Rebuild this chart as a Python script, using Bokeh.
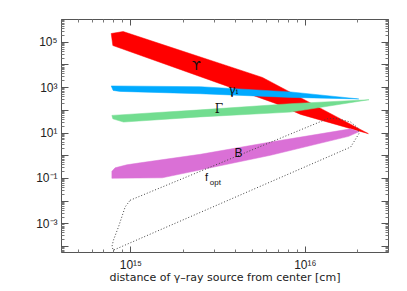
from bokeh.plotting import figure
from bokeh.models import FixedTicker, LogAxis, CustomJSTickFormatter
from bokeh.core.properties import value
from bokeh.embed import file_html
from bokeh.resources import INLINE

# ---------------- data ----------------
x_lim = (4e14, 3e16)
y_lim = (5.5e-5, 1e6)

x_label_exps = [15, 16]
y_label_exps = [-3, -1, 1, 3, 5]

SUP = {"-": "\u207b", "0": "\u2070", "1": "\u00b9", "2": "\u00b2", "3": "\u00b3",
       "4": "\u2074", "5": "\u2075", "6": "\u2076", "7": "\u2077", "8": "\u2078", "9": "\u2079"}
x_tick_labels = ["10" + "".join(SUP[c] for c in str(e)) for e in x_label_exps]
y_tick_labels = ["10" + "".join(SUP[c] for c in str(e)) for e in y_label_exps]

# Upsilon band (red)
ups_upper_x = [7.71e14, 9.03e14, 5.68e15, 2.30e16]
ups_upper_y = [2.41e5, 2.95e5, 2.81e3, 9.4]
ups_lower_x = [7.88e14, 6.75e15, 9.4e15]
ups_lower_y = [7.16e4, 202, 66.4]

# gamma_i band (blue)
gam_upper_x = [7.71e14, 2.50e15, 8.23e15, 2.025e16]
gam_upper_y = [1189, 1096, 647, 318]
gam_lower_x = [7.91e14, 8.68e14, 2.50e15, 8.23e15]
gam_lower_y = [753, 681, 540, 371]

# Gamma band (green)
Gam_upper_x = [7.78e14, 2.50e15, 8.23e15, 2.32e16]
Gam_upper_y = [60, 105, 196, 294]
Gam_lower_x = [7.88e14, 9.07e14, 2.50e15, 8.23e15]
Gam_lower_y = [42.1, 30.5, 51.5, 83.7]

# B band (magenta)
B_upper_x = [7.78e14, 8.12e14, 9.48e14, 1.131e15, 2.50e15, 6.32e15, 1.82e16, 2.025e16]
B_upper_y = [0.207, 0.295, 0.40, 0.49, 1.16, 4.02, 15.3, 11.3]
B_lower_x = [7.78e14, 1.513e15, 6.32e15, 1.774e16]
B_lower_y = [0.102, 0.107, 1.05, 7.16]

# f_opt contour (dotted)
fopt_x = [9.9e14, 1.344e16, 1.527e16, 1.82e16, 2.0e16, 2.03e16, 1.82e16,
          7.94e14, 7.78e14, 7.94e14, 8.49e14, 9.27e14, 9.9e14]
fopt_y = [0.0110, 43.0, 43.0, 30.4, 16.9, 9.41, 2.42,
          6.98e-5, 9.75e-5, 1.92e-4, 7.38e-4, 5.58e-3, 0.0110]


def band(ux, uy, lx, ly):
    return ux + lx[::-1], uy + ly[::-1]


# ---------------- figure ----------------
p = figure(width=398, height=290, x_axis_type="log", y_axis_type="log",
           x_range=x_lim, y_range=y_lim, output_backend="svg",
           toolbar_location=None, min_border_left=61, min_border_right=10,
           min_border_top=19, min_border_bottom=38)
p.grid.visible = False
p.outline_line_color = None
p.background_fill_color = "white"

x_major = [10.0 ** e for e in (15, 16)]
x_minor = [k * 1e14 for k in range(4, 10)] + [k * 1e15 for k in range(2, 10)] + [2e16, 3e16]
y_major = [10.0 ** e for e in range(-4, 7)]
y_minor = [k * 10.0 ** e for e in range(-5, 6) for k in range(2, 10)]

fmt_code = """
const e = Math.round(Math.log10(tick));
const i = exps.indexOf(e);
return i >= 0 ? labels[i] : '';
"""
xfmt = CustomJSTickFormatter(args=dict(exps=x_label_exps, labels=x_tick_labels), code=fmt_code)
yfmt = CustomJSTickFormatter(args=dict(exps=y_label_exps, labels=y_tick_labels), code=fmt_code)
blank = CustomJSTickFormatter(code="return '';")

AX_COL = "#555555"


def style(ax, major_in, labels=True):
    ax.axis_line_color = AX_COL
    ax.major_tick_line_color = AX_COL
    ax.minor_tick_line_color = "#777777"
    ax.major_tick_in = major_in
    ax.major_tick_out = 0
    ax.minor_tick_in = 3
    ax.minor_tick_out = 0
    if labels:
        ax.major_label_text_font = "Liberation Sans"
        ax.major_label_text_font_size = "12px"
        ax.major_label_text_color = "#222222"
    else:
        ax.major_label_text_font_size = "0px"
        ax.major_label_standoff = 0


xa = p.xaxis[0]
xa.ticker = FixedTicker(ticks=x_major, minor_ticks=x_minor)
xa.formatter = xfmt
style(xa, 6)
xa.major_label_standoff = 5
xa.axis_label = "distance of \u03b3\u2013ray source from center [cm]"
xa.axis_label_text_font = "DejaVu Sans"
xa.axis_label_text_font_size = "11px"
xa.axis_label_text_font_style = "normal"
xa.axis_label_text_color = "#222222"
xa.axis_label_standoff = -4

ya = p.yaxis[0]
ya.ticker = FixedTicker(ticks=y_major, minor_ticks=y_minor)
ya.formatter = yfmt
style(ya, 7)
ya.major_label_standoff = 4

top = LogAxis(ticker=FixedTicker(ticks=x_major, minor_ticks=x_minor), formatter=blank)
style(top, 6, labels=False)
p.add_layout(top, "above")
right = LogAxis(ticker=FixedTicker(ticks=y_major, minor_ticks=y_minor), formatter=blank)
style(right, 7, labels=False)
p.add_layout(right, "right")

# ---------------- bands ----------------
for (ux, uy, lx, ly), col in [
    ((ups_upper_x, ups_upper_y, ups_lower_x, ups_lower_y), "#FF0000"),
    ((gam_upper_x, gam_upper_y, gam_lower_x, gam_lower_y), "#00AAFF"),
    ((Gam_upper_x, Gam_upper_y, Gam_lower_x, Gam_lower_y), "#72DD90"),
    ((B_upper_x, B_upper_y, B_lower_x, B_lower_y), "#DA70D6"),
]:
    bx, by = band(ux, uy, lx, ly)
    p.patch(bx, by, fill_color=col, line_color=col, line_width=0.5)

p.line(fopt_x, fopt_y, line_color="#444444", line_width=1, line_dash="1 2")

# ---------------- labels ----------------
def lab(x, y, t, font, size):
    p.text(x=[x], y=[y], text=[t], text_font=value(font), text_font_size=size,
           text_align="center", text_baseline="middle", text_color="#111111")

lab(2.37e15, 9.46e3, "\u03d2", "DejaVu Sans", "13px")
lab(3.87e15, 753, "\u03b3\u1d62", "DejaVu Serif", "12px")
lab(3.2e15, 110, "\u0393", "DejaVu Serif", "12px")
lab(4.14e15, 1.28, "B", "Liberation Sans", "12px")
lab(2.71e15, 0.113, "f", "Liberation Sans", "11px")
lab(3.05e15, 0.0647, "opt", "Liberation Sans", "8px")

open("out.html", "w").write(file_html(p, INLINE))
